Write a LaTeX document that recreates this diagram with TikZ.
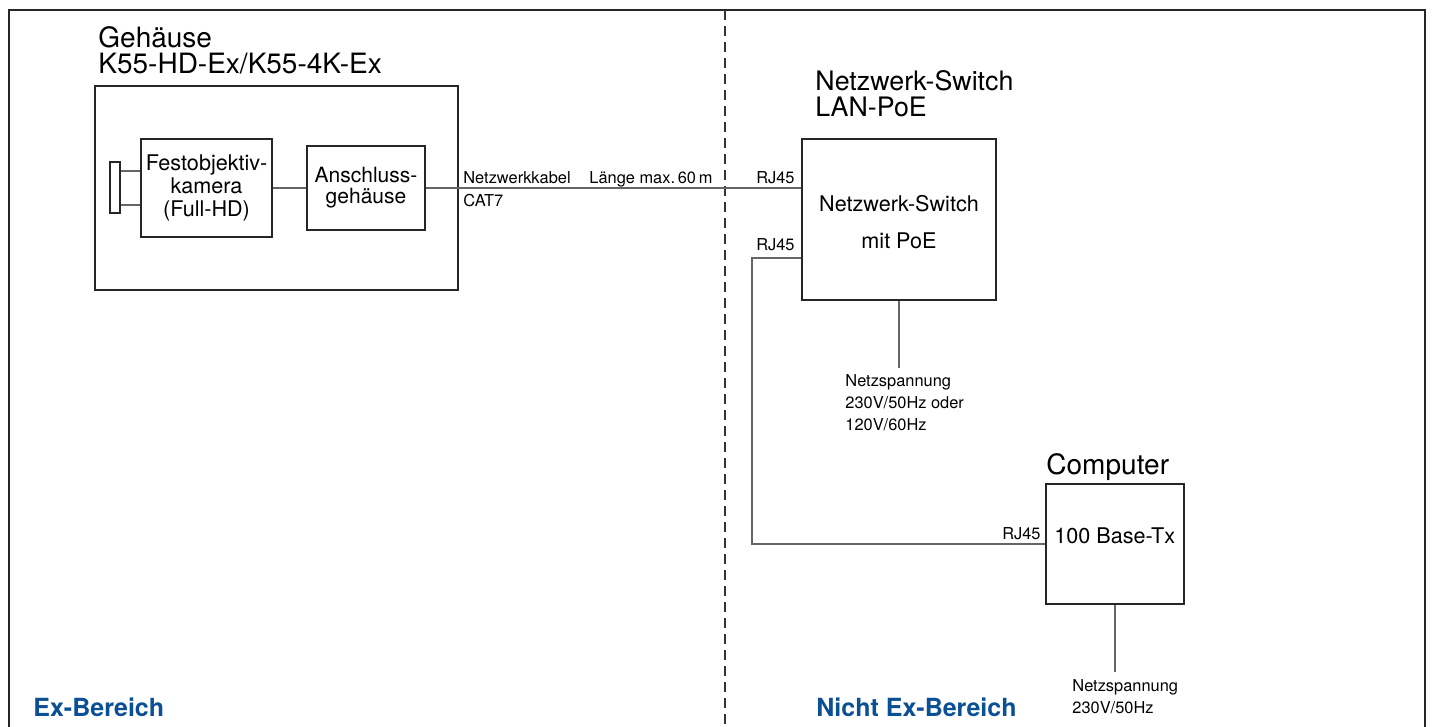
\documentclass[tikz,border=0pt]{standalone}
\usepackage{fontspec}
\setmainfont{TeX Gyre Heros}
\begin{document}
\begin{tikzpicture}[x=0.5pt,y=-0.5pt,
  box/.style={draw=black!85,line width=0.9pt},
  wire/.style={draw=black!60,line width=0.7pt},
  small/.style={font=\fontsize{8.2}{11}\selectfont,inner sep=0pt},
  mid/.style={font=\fontsize{10.8}{11.4}\selectfont,align=center,inner sep=0pt},
  big/.style={font=\fontsize{14}{13.2}\selectfont,align=left,inner sep=0pt,anchor=north west},
  area/.style={font=\bfseries\fontsize{12.5}{14}\selectfont,text=exblue,inner sep=0pt,anchor=base west}]
\definecolor{exblue}{HTML}{0B4F95}
\useasboundingbox (0,0) rectangle (1434,727);
% frame
\draw[box] (9,740) -- (9,10) -- (1425,10) -- (1425,740);
\draw[black!80,line width=0.6pt,dash pattern=on 5pt off 3pt] (725,10) -- (725,740);
% housing
\node[box,minimum width=181.5pt,minimum height=102pt,inner sep=0pt] (house) at (276.5,188) {};
\node[big] (houset) at (98,26) {Gehäuse\\K55-HD-Ex/K55-4K-Ex};
\node[box,minimum width=65.5pt,minimum height=49pt,inner sep=0pt] (cam) at (206.5,188) {};
\node[mid] at (cam.center) {Festobjektiv-\\kamera\\(Full-HD)};
\node[box,minimum width=5pt,minimum height=25.5pt,inner sep=0pt] (lens) at (115,187.5) {};
\draw[wire] (lens.east |- 0,171) -- (cam.west |- 0,171);
\draw[wire] (lens.east |- 0,205) -- (cam.west |- 0,205);
\node[box,minimum width=59pt,minimum height=42pt,inner sep=0pt] (ansch) at (366,188) {};
\node[mid,font=\fontsize{10.5}{10.5}\selectfont] at (ansch.center) {Anschluss-\\gehäuse};
\draw[wire] (cam.east) -- (ansch.west);
% switch
\node[box,minimum width=97pt,minimum height=80.5pt,inner sep=0pt] (sw) at (899,219.5) {};
\node[big,font=\fontsize{13.4}{13}\selectfont] (swt) at (815,70) {Netzwerk-Switch\\LAN-PoE};
\node[mid,font=\fontsize{10.8}{18.5}\selectfont] at (899,222) {Netzwerk-Switch\\mit PoE};
\draw[wire] (ansch.east) -- (sw.west |- ansch.east);
\node[small,anchor=base west] at (463,184) {Netzwerkkabel};
\node[small,anchor=base west] at (589,184) {Länge max.\,60\,m};
\node[small,anchor=base west] at (463,207) {CAT7};
\node[small,anchor=base east] at (795,184) {RJ45};
\node[small,anchor=base east] at (795,250) {RJ45};
% power switch
\coordinate (swp) at (899,368);
\draw[wire] (sw.south) -- (swp);
\node[small,anchor=north west,align=left] at (845,374) {Netzspannung\\230V/50Hz oder\\120V/60Hz};
% computer
\node[box,minimum width=69pt,minimum height=60pt,inner sep=0pt] (pc) at (1115,544) {};
\node[big,anchor=base west] at (1046,474) {Computer};
\node[mid,font=\fontsize{10.8}{12}\selectfont,anchor=west] at (1054,536) {100 Base-Tx};
\coordinate (c1) at (752,258);
\coordinate (c2) at (752,544);
\draw[wire] (sw.west |- c1) -- (c1) -- (c2) -- (pc.west |- c2);
\node[small,anchor=base east] at (1041,539) {RJ45};
\coordinate (pcp) at (1115,672);
\draw[wire] (pc.south) -- (pcp);
\node[small,anchor=north west,align=left] at (1072,679) {Netzspannung\\230V/50Hz};
% areas
\node[area] at (33,716) {Ex-Bereich};
\node[area] at (816,716) {Nicht Ex-Bereich};
\end{tikzpicture}
\end{document}
